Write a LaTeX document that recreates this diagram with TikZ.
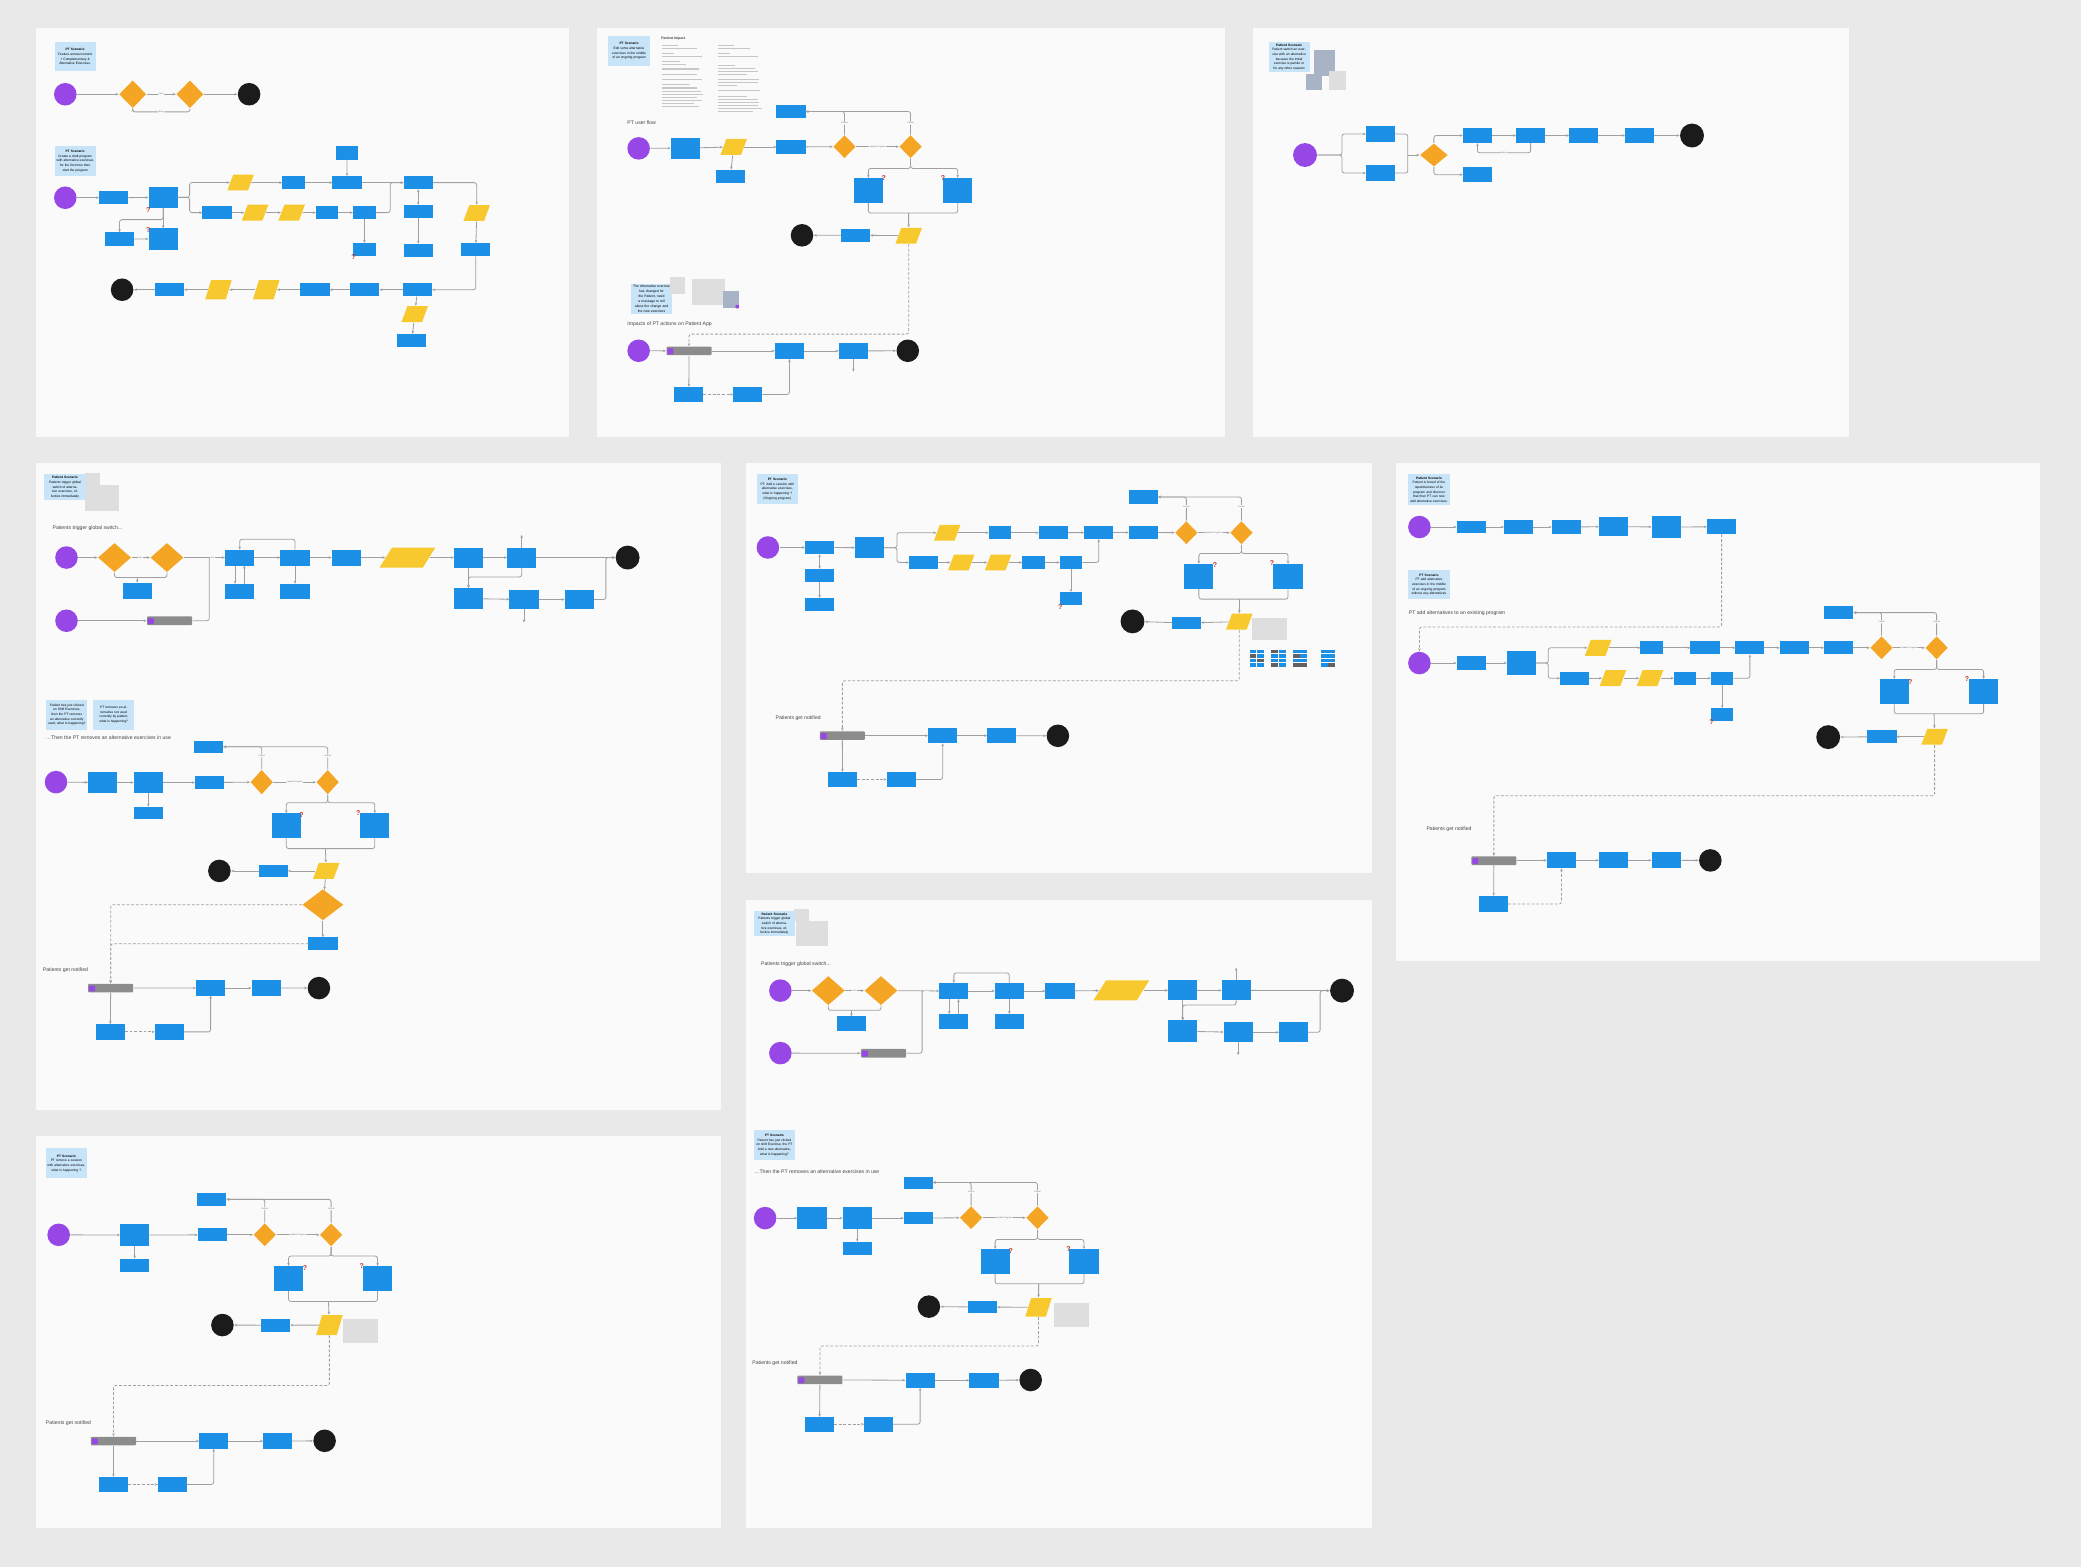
\documentclass[tikz,border=0pt]{standalone}
\usepackage{fontspec}
\setmainfont{Liberation Sans}
\usetikzlibrary{arrows.meta,shapes.geometric}
\definecolor{canvas}{HTML}{E9E9E9}
\definecolor{panel}{HTML}{FAFAFA}
\definecolor{fblue}{HTML}{1C8FE6}
\definecolor{fyel}{HTML}{F8C92E}
\definecolor{forng}{HTML}{F5A524}
\definecolor{fpurp}{HTML}{9747E6}
\definecolor{fblack}{HTML}{1B1B1B}
\definecolor{fnote}{HTML}{C7E4F8}
\definecolor{fgnote}{HTML}{DEDEDE}
\definecolor{fnotif}{HTML}{8C8C8C}
\definecolor{fslate}{HTML}{A9B3C6}
\definecolor{fline}{HTML}{A0A0A0}
\definecolor{fhead}{HTML}{444444}
\definecolor{fred}{HTML}{C0392B}
\begin{document}
\begin{tikzpicture}[
x=0.02cm, y=-0.02cm,
    box/.style = {rectangle, fill=fblue,% blue steps of the flows
                  minimum width=0.44cm, minimum height=0.2cm,
                  inner sep=0pt, outer sep=0pt},
   tall/.style = {minimum height=0.32cm},
    msg/.style = {minimum height=0.38cm},
   slim/.style = {minimum width=0.34cm},
     io/.style = {trapezium, trapezium left angle=68, trapezium right angle=112,
                  trapezium stretches=true, fill=fyel,
                  minimum width=0.4cm, minimum height=0.24cm, inner sep=0.5pt},
    dec/.style = {diamond, fill=forng, minimum width=0.34cm, minimum height=0.35cm,
                  inner sep=0pt},
 bigdec/.style = {dec, minimum width=0.41cm, minimum height=0.42cm},
   strt/.style = {circle, fill=fpurp, minimum size=0.34cm, inner sep=0pt},
    fin/.style = {circle, fill=fblack, minimum size=0.34cm, inner sep=0pt},
   note/.style = {rectangle, fill=fnote, minimum width=0.62cm, minimum height=0.45cm,
                  text width=0.57cm, align=center, inner sep=0.4pt,
                  font=\fontsize{1.4}{2}\selectfont},
    ntf/.style = {rectangle, rounded corners=0.4pt, fill=fnotif,% in-app notification
                  minimum width=0.68cm, minimum height=0.13cm, inner sep=0pt,
                  path picture={\fill[fpurp] ([shift={(0.4pt,0.4pt)}]path picture bounding box.south west)
                                rectangle ++(0.09cm,0.09cm);}},
    hdr/.style = {anchor=west, inner sep=0pt, text=fhead, font=\fontsize{2.2}{2.6}\selectfont},
    arr/.style = {draw=fline, line width=0.35pt, rounded corners=1pt,
                  -{Stealth[length=1.3pt,width=1.1pt]}},
   arr2/.style = {arr, {Stealth[length=1.3pt,width=1.1pt]}-{Stealth[length=1.3pt,width=1.1pt]}},
    lin/.style = {draw=fline, line width=0.35pt, rounded corners=1pt},
    dsh/.style = {arr, dash pattern=on 1.2pt off 0.8pt},
    lbl/.style = {fill=panel, inner sep=0.3pt, text=black!55, font=\fontsize{0.9}{1}\selectfont},
     qm/.style = {inner sep=0pt, text=fred, font=\fontsize{3}{3}\selectfont\bfseries},
                    ]
\fill[canvas] (0,0) rectangle (1568,1181);
\useasboundingbox (0,0) rectangle (1568,1181);
\foreach \xa/\ya/\xb/\yb in {27/21/429/329, 450/21/923/329, 944/21/1393/329,
    27/349/543/836, 562/349/1034/658, 1052/349/1537/724, 562/678/1034/1151, 27/856/543/1151}
  \fill[panel] (\xa,\ya) rectangle (\xb,\yb);

% board 1
\node[note] (p1n1) at (56.6,42.6) {\textbf{PT Scenario}\\Feature announcement + Complementary \& Alternative Exercises.};
\node[strt] (p1s1) at (49.2,71) {};
\node[bigdec] (p1d1) at (100,71) {};
\node[bigdec] (p1d2) at (143.1,71) {};
\node[fin] (p1e1) at (187.7,71) {};
\draw[arr] (p1s1) -- (p1d1);
\draw[arr] (p1d1) -- node[lbl] {Next} (p1d2);
\draw[arr] (p1d2) -- (p1e1);
\draw[arr] (p1d2.south) |- (121.5,84.3) node[lbl] {Back} -| (p1d1.south);

\node[note] (p1n2) at (56.6,121.4) {\textbf{PT Scenario}\\Create a draft program with alternative exercises for the first time then start the program};
\node[strt] (p1s2) at (49.2,149) {};
\node[box] (p1a) at (85.7,149) {};
\node[box, tall] (p1b) at (122.9,148.7) {};
\node[box] (p1c) at (90.1,180.1) {};
\node[box, tall] (p1d) at (122.9,180) {};
\node[io] (p1p1) at (181.3,137.5) {};
\node[box, slim] (p1e) at (221.2,137.6) {};
\node[box] (p1f) at (261.5,137.6) {};
\node[box, slim] (p1g) at (261.4,115.2) {};
\node[box] (p1h) at (315.1,137.6) {};
\node[box] (p1i) at (163.5,160.2) {};
\node[io] (p1p2) at (192.2,160.2) {};
\node[io] (p1p3) at (219.8,160.2) {};
\node[box, slim] (p1j) at (246.5,160.2) {};
\node[box, slim] (p1k) at (274.5,160.2) {};
\node[box, slim] (p1l) at (274.5,188.1) {};
\node[box] (p1m) at (315.1,159.4) {};
\node[box] (p1n) at (315.1,188.6) {};
\node[io] (p1p4) at (359.2,160.5) {};
\node[box] (p1o) at (358.5,188.1) {};
\node[box] (p1q) at (314.6,218.3) {};
\node[box] (p1r) at (274.9,218.3) {};
\node[box] (p1t) at (237.4,218.3) {};
\node[io, minimum height=0.29cm] (p1p5) at (200.6,218.3) {};
\node[io, minimum height=0.29cm] (p1p6) at (164.6,218.3) {};
\node[box] (p1u) at (127.6,218.3) {};
\node[fin] (p1e2) at (92,218.3) {};
\node[io] (p1p7) at (312.5,236.7) {};
\node[box] (p1v) at (310.3,256.5) {};
\foreach \u/\v in {s2/a, a/b, p1/e, e/f, g/f, f/h, i/p2, p2/p3, p3/j, j/k, k/l, m/n, c/d, b/d,
                   p4/o, q/r, r/t, t/p5, p5/p6, p6/u, u/e2, q/p7, p7/v}
  \draw[arr] (p1\u) -- (p1\v);
\draw[arr2] (p1m) -- (p1h);
\draw[arr] (p1b.east) -- ++(9,0) |- (p1p1);
\draw[arr] (p1b.east) -- ++(9,0) |- (p1i);
\draw[arr] (p1k.east) -- ++(11,0) |- (p1h.west);
\draw[arr] (p1h.east) -| (p1p4.north);
\draw[arr] (p1o.south) |- (p1q.east);
\draw[arr] (p1b.south) -- ++(0,8.8) -| (p1c.north);
\node[qm] (p1q1) at (111.8,158.5) {?};
\node[qm] (p1q2) at (111.8,173) {?};
\node[qm] (p1q3) at (266.3,193.5) {?};

% board 2
\node[note, minimum width=0.63cm] (p2n1) at (474,38.5) {\textbf{PT Scenario}\\Edit some alternative exercises in the middle of an ongoing program};
\node[anchor=north west, inner sep=0pt, text=fhead, font=\fontsize{1.5}{1.8}\selectfont\bfseries] (p2imp) at (498,27.3) {Patient impact};
\foreach \yy/\ww in {34/12, 36.3/26, 40/9, 42.3/30, 46/13, 48.3/18, 52/28, 56/26, 60/30,
                     64/21, 66.3/26, 68.6/29, 70.9/31, 73.2/26, 75.5/30, 77.8/24, 80.1/28}
  \draw[black!22, line width=0.45pt] (499,\yy) -- ++(\ww,0);
\foreach \yy/\ww in {34/12, 36.3/24, 40/9, 42.3/30, 49/13, 51.3/28, 53.6/30, 56/22, 60/31,
                     62.3/30, 64.6/14, 68.5/32, 72.5/22, 74.8/30, 77.1/31, 79.4/30, 81.7/33, 84/26}
  \draw[black!22, line width=0.45pt] (541,\yy) -- ++(\ww,0);
\node[hdr] (p2t1) at (472.4,92.7) {PT user flow};
\node[strt] (p2s1) at (481.2,111.8) {};
\node[box, tall] (p2a) at (516.3,111.6) {};
\node[io] (p2p1) at (552.8,110.7) {};
\node[box] (p2b) at (550.3,132.8) {};
\node[box] (p2c) at (596,110.7) {};
\node[box] (p2top) at (596,84) {};
\node[dec] (p2d1) at (636.3,110.5) {};
\node[dec] (p2d2) at (686.1,110.5) {};
\node[box, msg] (p2m1) at (654.3,143.5) {};
\node[box, msg] (p2m2) at (721.6,143.5) {};
\coordinate (p2j) at (684.6,160.5);
\node[io] (p2p2) at (684.7,177.6) {};
\node[box] (p2e) at (644.6,177.2) {};
\node[fin] (p2e1) at (604.3,177.3) {};
\foreach \u/\v in {s1/a, a/p1, p1/c, c/d1, p1/b, j/p2, p2/e, e/e1}
  \draw[arr] (p2\u) -- (p2\v);
\draw[arr] (p2d1) -- node[lbl] {Update Program} (p2d2);
\draw[arr] (p2d1.north) |- node[lbl, pos=0.25] {Cancel} (p2top.east);
\draw[arr] (p2d2.north) |- node[lbl, pos=0.25] {Cancel} (p2top.east);
\draw[arr] (p2d2.south) -- ++(0,7.3) -| (p2m1.north);
\draw[arr] (p2d2.south) -- ++(0,7.3) -| (p2m2.north);
\draw[lin] (p2m1.south) |- (p2j) -| (p2m2.south);
\node[qm] (p2q1) at (665.9,133.8) {?};
\node[qm] (p2q2) at (710.6,133.8) {?};

\node[note, font=\fontsize{1.45}{2.1}\selectfont] (p2n2) at (490.9,225.2) {The Alternative exercise has changed for the Patient, need a message to tell about the change and the new exercises};
\fill[fgnote] (504.7,209) rectangle (516.2,221.3);
\fill[fgnote] (521.3,210) rectangle (546.4,229.6);
\fill[fslate] (544.9,219.5) rectangle (557,232.1);
\fill[fpurp] (555.5,231) circle (0.03cm);
\node[hdr] (p2t2) at (472.4,244.2) {Impacts of PT actions on Patient App};
\node[strt] (p2s2) at (481.2,264.3) {};
\node[ntf] (p2ntf) at (519.2,264.4) {};
\node[box, minimum height=0.24cm] (p2f) at (594.8,264.4) {};
\node[box, minimum height=0.24cm] (p2g) at (643,264.4) {};
\node[fin] (p2e2) at (684,264.3) {};
\coordinate (p2x) at (643,280);
\node[box, minimum height=0.23cm] (p2h) at (519,297.2) {};
\node[box, minimum height=0.23cm] (p2i) at (563.4,297.2) {};
\foreach \u/\v in {s2/ntf, ntf/f, f/g, g/e2, g/x, ntf/h}
  \draw[arr] (p2\u) -- (p2\v);
\draw[dsh] (p2h) -- (p2i);
\draw[arr] (p2i.east) -| (p2f.south);
\draw[dsh] (p2p2.south) -- ++(0,67.8) -| (p2ntf.north);

% board 3
\fill[fslate] (989.9,37.7) rectangle (1006.2,57.5);
\fill[fslate] (983.9,56) rectangle (995.9,67.6);
\fill[fgnote] (1001.7,53.5) rectangle (1014,68.1);
\node[note, minimum height=0.46cm] (p3n1) at (971.3,43) {\textbf{Patient Scenario}\\Patient switch an exercise with an alternative because the initial exercise is painful or for any other reasons};
\node[strt, minimum size=0.36cm] (p3s) at (983.3,116.8) {};
\node[box, minimum height=0.23cm] (p3a) at (1040.2,101) {};
\node[box, minimum height=0.23cm] (p3b) at (1040.2,130.4) {};
\coordinate (p3m) at (1060.7,116.8);
\node[dec, minimum width=0.42cm] (p3d) at (1080.4,116.8) {};
\node[box, minimum height=0.23cm] (p3c) at (1113.2,102.1) {};
\node[box, minimum height=0.23cm] (p3k) at (1113.2,131.6) {};
\node[box, minimum height=0.23cm] (p3e) at (1153.3,102.1) {};
\node[box, minimum height=0.23cm] (p3f) at (1193.4,102.1) {};
\node[box, minimum height=0.23cm] (p3g) at (1235.3,102.1) {};
\node[fin, minimum size=0.36cm] (p3e1) at (1274.9,102.1) {};
\draw[arr] (p3s.east) -- ++(18.5,0) |- (p3a);
\draw[arr] (p3s.east) -- ++(18.5,0) |- (p3b);
\draw[lin] (p3a) -| (p3m);
\draw[lin] (p3b) -| (p3m);
\draw[arr] (p3m) -- (p3d);
\draw[arr] (p3d.north) |- (p3c);
\draw[arr] (p3d.south) |- (p3k);
\foreach \u/\v in {c/e, e/f, f/g, g/e1}
  \draw[arr] (p3\u) -- (p3\v);
\draw[arr] (p3e.south) -- ++(0,7.3) -| node[lbl, pos=0.25] {Back} (p3c.south);

% board 4
\fill[fgnote] (64,356.7) rectangle (75.1,365.1);
\fill[fgnote] (64.3,365.1) rectangle (89.6,384.7);
\node[note, minimum height=0.39cm] (p4n1) at (49,367.2) {\textbf{Patient Scenario}\\Patients trigger global switch of alternative exercises, effective immediately};
\node[hdr] (p4t1) at (39.3,398.3) {Patients trigger global switch...};
\node[strt] (p4s1) at (50.1,420.1) {};
\node[dec, minimum width=0.5cm, minimum height=0.44cm] (p4d1) at (86.3,420.1) {};
\node[dec, minimum width=0.5cm, minimum height=0.44cm] (p4d2) at (125.8,420.1) {};
\node[box, minimum height=0.24cm] (p4c) at (103.4,445) {};
\coordinate (p4k) at (103.4,434.7);
\node[strt] (p4s2) at (50.1,467.7) {};
\node[ntf] (p4ntf) at (127.8,467.7) {};
\coordinate (p4j) at (157.7,420.1);
\node[box, minimum height=0.24cm] (p4a) at (180.6,420.1) {};
\node[box, minimum height=0.23cm] (p4a2) at (180.6,445.6) {};
\node[box, minimum height=0.24cm] (p4b) at (222.3,420.1) {};
\node[box, minimum height=0.23cm] (p4b2) at (222.3,445.6) {};
\node[box, minimum height=0.24cm] (p4c2) at (260.9,420.1) {};
\node[io, minimum width=0.84cm, minimum height=0.3cm] (p4p) at (307,420.1) {};
\node[box, minimum height=0.3cm] (p4d) at (353,420.1) {};
\node[box, minimum height=0.3cm] (p4e) at (393.1,420.1) {};
\coordinate (p4x1) at (393.1,403);
\node[fin, minimum size=0.36cm] (p4e1) at (472.9,420.1) {};
\node[box, tall] (p4f) at (353,451) {};
\node[box, minimum height=0.29cm] (p4g) at (394.8,451.7) {};
\node[box, minimum height=0.29cm] (p4h) at (436.5,451.7) {};
\coordinate (p4x2) at (394.8,469);
\draw[arr] (p4s1) -- (p4d1);
\draw[arr] (p4d1) -- node[lbl] {Yes} (p4d2);
\draw[arr] (p4d2) -- node[lbl, pos=0.7] {Yes} (p4a);
\draw[lin] (p4d1.south) -- ++(0,3.7) -| (p4d2.south);
\draw[arr] (p4k) -- (p4c);
\draw[arr] (p4s2) -- (p4ntf);
\draw[lin] (p4ntf.east) -| (p4j);
\draw[arr] ([xshift=-0.07cm]p4a.south) -- ([xshift=-0.07cm]p4a2.north);
\draw[arr] ([xshift=0.07cm]p4a2.north) -- ([xshift=0.07cm]p4a.south);
\draw[arr] (p4b.north) -- ++(0,-7.8) -| (p4a.north);
\foreach \u/\v in {a/b, b/b2, b/c2, c2/p, p/d, d/e, e/e1, e/x1, d/f, f/g, g/h, g/x2}
  \draw[arr] (p4\u) -- (p4\v);
\draw[arr] (p4e.south) -- ++(0,7.1) -| (p4f.north);
\draw[arr] (p4h.east) -- ++(9,0) |- (p4e1);

\node[note] (p4n2) at (50.3,538.5) {Patient has just clicked on Shift Exercises, then the PT removes an alternative currently used, what is happening?};
\node[note] (p4n3) at (85.7,538.5) {PT removes an alternative not used currently by patient, what is happening?};
\node[hdr] (p4t2) at (34.3,556) {\ldots Then the PT removes an alternative exercises in use};
\node[box, minimum height=0.19cm] (p4rtop) at (157.2,562.7) {};
\node[strt] (p4rs) at (42.2,589.3) {};
\node[box, tall] (p4ra) at (77.4,589.6) {};
\node[box, tall] (p4rb) at (111.8,589.6) {};
\node[box, minimum height=0.19cm] (p4rb2) at (111.8,612.6) {};
\node[box] (p4rc) at (157.9,589.6) {};
\node[dec, minimum height=0.37cm] (p4rd1) at (197.2,589.3) {};
\node[dec, minimum height=0.37cm] (p4rd2) at (246.9,589.3) {};
\node[box, msg] (p4rm1) at (215.7,622.2) {};
\node[box, msg] (p4rm2) at (282.4,622.2) {};
\coordinate (p4rj) at (245.2,639.4);
\node[io] (p4rp) at (245.8,656.2) {};
\node[box, minimum height=0.19cm] (p4re) at (205.9,656.2) {};
\node[fin] (p4re1) at (165.3,656.2) {};
\node[dec, minimum width=0.62cm, minimum height=0.47cm] (p4rd3) at (243.3,681.7) {};
\node[box] (p4rf) at (243.3,711.1) {};
\node[hdr] (p4t3) at (32,731.1) {Patients get notified};
\node[ntf] (p4ntf2) at (83.4,744.5) {};
\node[box, minimum height=0.23cm] (p4rg) at (158.7,744.4) {};
\node[box, minimum height=0.23cm] (p4rh) at (200.5,744.4) {};
\node[fin] (p4re2) at (240.3,744.5) {};
\node[box, minimum height=0.23cm] (p4ri) at (83.1,777.5) {};
\node[box, minimum height=0.23cm] (p4rk) at (127.5,777.5) {};
\foreach \u/\v in {s/a, a/b, b/b2, b/c, c/d1, j/p, p/e, e/e1, p/d3, d3/f, g/h, h/e2}
  \draw[arr] (p4r\u) -- (p4r\v);
\draw[arr] (p4rd1) -- node[lbl] {Update Program} (p4rd2);
\draw[arr] (p4rd1.north) |- node[lbl, pos=0.3] {Cancel} (p4rtop);
\draw[arr] (p4rd2.north) |- node[lbl, pos=0.3] {Cancel} (p4rtop);
\draw[arr] (p4rd2.south) -- ++(0,5.9) -| (p4rm1.north);
\draw[arr] (p4rd2.south) -- ++(0,5.9) -| (p4rm2.north);
\draw[lin] (p4rm1.south) |- (p4rj) -| (p4rm2.south);
\draw[dsh] (p4rd3.west) -| (p4ntf2.north);
\draw[dsh] (p4rf.west) -| (p4ntf2.north);
\draw[arr] (p4ntf2) -- (p4rg);
\draw[arr] (p4ntf2) -- (p4ri);
\draw[dsh] (p4ri) -- (p4rk);
\draw[arr] (p4rk.east) -| (p4rg.south);
\node[qm] (p4q1) at (227.1,614.3) {?};
\node[qm] (p4q2) at (269.9,612.5) {?};

% board 5
\node[note] (p5n1) at (585.7,368.5) {\textbf{PT Scenario}\\PT: Add a session with alternative exercises, what is happening ? (Ongoing program)};
\node[strt] (p5s) at (578.6,412.5) {};
\node[box] (p5a) at (617.6,412.5) {};
\node[box] (p5a2) at (617.6,433.6) {};
\node[box] (p5a3) at (617.6,455.5) {};
\node[box, tall] (p5b) at (655.2,412.7) {};
\node[io] (p5p1) at (713.7,401.4) {};
\node[box, slim] (p5e) at (753.5,401.4) {};
\node[box] (p5f) at (793.7,401.4) {};
\node[box] (p5g) at (827.9,401.2) {};
\node[box] (p5h) at (861.5,401.2) {};
\node[box] (p5top) at (861.5,374.5) {};
\node[dec] (p5d1) at (893.9,401.4) {};
\node[dec] (p5d2) at (935.4,401.4) {};
\node[box] (p5i) at (695.8,423.8) {};
\node[io] (p5p2) at (724.3,423.8) {};
\node[io] (p5p3) at (752.1,423.8) {};
\node[box, slim] (p5j) at (778.7,423.8) {};
\node[box, slim] (p5k) at (807,423.8) {};
\node[box, slim] (p5l) at (807,451.1) {};
\node[box, msg] (p5m1) at (903.3,434.3) {};
\node[box, msg] (p5m2) at (970.5,434.3) {};
\coordinate (p5j2) at (933.9,451.4);
\fill[fgnote] (943,465.7) rectangle (969.7,482.5);
\node[io] (p5p4) at (933.8,468.4) {};
\node[box, minimum height=0.17cm] (p5e2) at (894,469.4) {};
\node[fin, minimum size=0.36cm] (p5e1) at (853.3,468.2) {};
\foreach \gx in {941.7,958,974.2,995.3}
  \foreach \r in {0,1,2,3}
    \foreach \c in {0,1}
      \fill[fblue] (\gx+\c*5.6,489.5+\r*3.4) rectangle ++(5,2.6);
\foreach \gx/\r/\c in {958/0/0, 958/3/0, 974.2/1/0, 974.2/3/0, 974.2/3/1, 941.7/1/0, 941.7/2/1, 995.3/3/1}
  \fill[fnotif!70!black] (\gx+\c*5.6,489.5+\r*3.4) rectangle ++(5,2.6);
\foreach \u/\v in {s/a, a2/a3, a/b, p1/e, e/f, f/g, g/h, h/d1, i/p2, p2/p3, p3/j, j/k, k/l, j2/p4, p4/e2, e2/e1}
  \draw[arr] (p5\u) -- (p5\v);
\draw[arr2] (p5a) -- (p5a2);
\draw[arr] (p5b.east) -- ++(9.6,0) |- (p5p1);
\draw[arr] (p5b.east) -- ++(9.6,0) |- (p5i);
\draw[arr] (p5k.east) -| (p5g.south);
\draw[arr] (p5d1) -- node[lbl] {Update Program} (p5d2);
\draw[arr] (p5d1.north) |- node[lbl, pos=0.3] {Cancel} (p5top);
\draw[arr] (p5d2.north) |- node[lbl, pos=0.3] {Cancel} (p5top);
\draw[arr] (p5d2.south) -- ++(0,6.5) -| (p5m1.north);
\draw[arr] (p5d2.south) -- ++(0,6.5) -| (p5m2.north);
\draw[lin] (p5m1.south) |- (p5j2) -| (p5m2.south);
\node[qm] (p5q1) at (915.5,425.8) {?};
\node[qm] (p5q2) at (958.5,424.6) {?};
\node[qm] (p5q3) at (798.8,457.3) {?};
\node[hdr] (p5t1) at (584.1,541.1) {Patients get notified};
\node[ntf] (p5ntf) at (634.7,554.3) {};
\node[box, minimum height=0.23cm] (p5na) at (710.3,554.3) {};
\node[box, minimum height=0.23cm] (p5nb) at (754.8,554.3) {};
\node[fin] (p5e3) at (797.1,554.4) {};
\node[box, minimum height=0.23cm] (p5nc) at (634.8,587.3) {};
\node[box, minimum height=0.23cm] (p5nd) at (679,587.3) {};
\foreach \u/\v in {ntf/na, na/nb, nb/e3, ntf/nc}
  \draw[arr] (p5\u) -- (p5\v);
\draw[dsh] (p5nc) -- (p5nd);
\draw[arr] (p5nd.east) -| (p5na.south);
\draw[dsh] (p5p4.south) -- ++(0,38.2) -| (p5ntf.north);

% board 6
\node[note, minimum height=0.47cm] (p6n1) at (1076.7,368.9) {\textbf{Patient Scenario}\\Patient is bored of the repetitiveness of its program and discover that their PT can now add alternative exercises.};
\node[strt] (p6s1) at (1069.5,397.1) {};
\node[box, minimum height=0.19cm] (p6a) at (1108.5,397.1) {};
\node[box, minimum height=0.22cm] (p6b) at (1144.3,397.1) {};
\node[box, minimum height=0.22cm] (p6c) at (1180.2,397.1) {};
\node[box, minimum height=0.28cm] (p6d) at (1215.8,396.8) {};
\node[box, minimum height=0.32cm] (p6e) at (1255.4,397.1) {};
\node[box, minimum height=0.23cm] (p6f) at (1297.2,396.9) {};
\foreach \u/\v in {s1/a, a/b, b/c, c/d, d/e, e/f}
  \draw[arr] (p6\u) -- (p6\v);
\node[note] (p6n2) at (1076.7,440.4) {\textbf{PT Scenario}\\PT add alternative exercises in the middle of an ongoing program without any alternatives};
\node[hdr] (p6t1) at (1061.2,461.7) {PT add alternatives to an existing program};
\node[strt] (p6s2) at (1069.5,499.6) {};
\draw[dsh] (p6f.south) -- ++(0,69.8) -| (p6s2.north);
\node[box] (p6ra) at (1108.5,499.6) {};
\node[box, minimum height=0.35cm] (p6rb) at (1146.3,499.6) {};
\node[io] (p6p1) at (1204.2,488.1) {};
\node[box, slim] (p6re) at (1244.5,488.1) {};
\node[box] (p6rf) at (1284.7,488.1) {};
\node[box] (p6rg) at (1318.5,488.1) {};
\node[box] (p6rh) at (1352,488.1) {};
\node[box] (p6ri) at (1385.4,488.1) {};
\node[box] (p6top) at (1385.4,461.6) {};
\node[dec] (p6d1) at (1417.7,488.1) {};
\node[dec] (p6d2) at (1459.2,488.1) {};
\node[box] (p6rj) at (1186.5,511) {};
\node[io] (p6p2) at (1215.3,511) {};
\node[io] (p6p3) at (1243.2,511) {};
\node[box, slim] (p6rk) at (1269.7,511) {};
\node[box, slim] (p6rl) at (1297.6,511) {};
\node[box, slim] (p6rl2) at (1297.6,538.5) {};
\node[box, msg] (p6m1) at (1427.3,521.1) {};
\node[box, msg] (p6m2) at (1494.6,521.1) {};
\coordinate (p6j) at (1457.3,537.8);
\node[io] (p6p4) at (1457.7,555.1) {};
\node[box] (p6re2) at (1418,555.1) {};
\node[fin, minimum size=0.36cm] (p6e1) at (1377.5,555.4) {};
\foreach \u/\v in {s2/ra, ra/rb, p1/re, re/rf, rf/rg, rg/rh, rh/ri, ri/d1, rj/p2, p2/p3, p3/rk, rk/rl,
                   rl/rl2, j/p4, p4/re2, re2/e1}
  \draw[arr] (p6\u) -- (p6\v);
\draw[arr] (p6rb.east) -- ++(9.3,0) |- (p6p1);
\draw[arr] (p6rb.east) -- ++(9.3,0) |- (p6rj);
\draw[arr] (p6rl.east) -| (p6rg.south);
\draw[arr] (p6d1) -- node[lbl] {Update Program} (p6d2);
\draw[arr] (p6d1.north) |- node[lbl, pos=0.3] {Cancel} (p6top);
\draw[arr] (p6d2.north) |- node[lbl, pos=0.3] {Cancel} (p6top);
\draw[arr] (p6d2.south) -- ++(0,7.2) -| (p6m1.north);
\draw[arr] (p6d2.south) -- ++(0,7.2) -| (p6m2.north);
\draw[lin] (p6m1.south) |- (p6j) -| (p6m2.south);
\node[qm] (p6q1) at (1439.4,513.7) {?};
\node[qm] (p6q2) at (1482.1,512) {?};
\node[qm] (p6q3) at (1289.6,543.9) {?};
\node[hdr] (p6t2) at (1074.5,624.5) {Patients get notified};
\node[ntf] (p6ntf) at (1125.6,648.5) {};
\node[box, minimum height=0.24cm] (p6na) at (1176.5,648.2) {};
\node[box, minimum height=0.24cm] (p6nb) at (1215.8,648.2) {};
\node[box, minimum height=0.24cm] (p6nc) at (1255.4,648.2) {};
\node[fin] (p6e2) at (1288.7,648.3) {};
\node[box, minimum height=0.25cm] (p6nd) at (1125.4,681.2) {};
\foreach \u/\v in {ntf/na, na/nb, nb/nc, nc/e2, ntf/nd}
  \draw[arr] (p6\u) -- (p6\v);
\draw[dsh] (p6nd.east) -| (p6na.south);
\draw[dsh] (p6p4.south) -- ++(0,38.1) -| (p6ntf.north);

% board 7
\fill[fgnote] (598.2,684.8) rectangle (609.6,693.9);
\fill[fgnote] (599.4,693.9) rectangle (624.1,712.9);
\node[note, minimum height=0.38cm] (p7n1) at (583.5,696) {\textbf{Patient Scenario}\\Patients trigger global switch of alternative exercises, effective immediately};
\node[hdr] (p7t1) at (573.2,726.8) {Patients trigger global switch...};
\node[strt] (p7s1) at (588,746.4) {};
\node[dec, minimum width=0.5cm, minimum height=0.44cm] (p7d1) at (624.1,746.4) {};
\node[dec, minimum width=0.5cm, minimum height=0.44cm] (p7d2) at (663.8,746.4) {};
\node[box, minimum height=0.22cm] (p7c) at (641.5,771.3) {};
\coordinate (p7k) at (641.5,760.9);
\node[strt] (p7s2) at (588,793.5) {};
\node[ntf] (p7ntf) at (665.7,793.6) {};
\coordinate (p7j) at (694.8,746.4);
\node[box, minimum height=0.24cm] (p7a) at (718.7,746.7) {};
\node[box, minimum height=0.23cm] (p7a2) at (718.7,769.9) {};
\node[box, minimum height=0.24cm] (p7b) at (760.5,746.7) {};
\node[box, minimum height=0.23cm] (p7b2) at (760.5,769.8) {};
\node[box, minimum height=0.24cm] (p7c2) at (798.7,746.7) {};
\node[io, minimum width=0.84cm, minimum height=0.3cm] (p7p) at (844.9,746.2) {};
\node[box, minimum height=0.3cm] (p7d) at (891.2,746.2) {};
\node[box, minimum height=0.3cm] (p7e) at (931.4,746.2) {};
\coordinate (p7x1) at (931.4,729);
\node[fin, minimum size=0.36cm] (p7e1) at (1011.2,746.4) {};
\node[box, minimum height=0.33cm] (p7f) at (891.2,777) {};
\node[box, minimum height=0.3cm] (p7g) at (932.9,777.8) {};
\node[box, minimum height=0.3cm] (p7h) at (974.7,777.8) {};
\coordinate (p7x2) at (932.9,795);
\draw[arr] (p7s1) -- (p7d1);
\draw[arr] (p7d1) -- node[lbl] {Yes} (p7d2);
\draw[arr] (p7d2) -- node[lbl, pos=0.7] {Yes} (p7a);
\draw[lin] (p7d1.south) -- ++(0,3.5) -| (p7d2.south);
\draw[arr] (p7k) -- (p7c);
\draw[arr] (p7s2) -- (p7ntf);
\draw[lin] (p7ntf.east) -| (p7j);
\draw[arr] ([xshift=-0.07cm]p7a.south) -- ([xshift=-0.07cm]p7a2.north);
\draw[arr] ([xshift=0.07cm]p7a2.north) -- ([xshift=0.07cm]p7a.south);
\draw[arr] (p7b.north) -- ++(0,-7.6) -| (p7a.north);
\foreach \u/\v in {a/b, b/b2, b/c2, c2/p, p/d, d/e, e/e1, e/x1, d/f, f/g, g/h, g/x2}
  \draw[arr] (p7\u) -- (p7\v);
\draw[arr] (p7e.south) -- ++(0,3.6) -| (p7f.north);
\draw[arr] (p7h.east) -- ++(9,0) |- (p7e1);

\node[note] (p7n2) at (583.5,862.8) {\textbf{PT Scenario}\\Patient has just clicked on shift Exercise, the PT Add a new alternative, what is happening?};
\node[hdr] (p7t2) at (568.1,883.1) {\ldots Then the PT removes an alternative exercises in use};
\node[box, minimum height=0.18cm] (p7rtop) at (691.8,891) {};
\node[strt] (p7rs) at (576.5,917.8) {};
\node[box, tall] (p7ra) at (611.8,917.8) {};
\node[box, tall] (p7rb) at (645.9,917.8) {};
\node[box] (p7rb2) at (645.9,940.6) {};
\node[box, minimum height=0.19cm] (p7rc) at (692,917.8) {};
\node[dec] (p7rd1) at (731.7,917.5) {};
\node[dec] (p7rd2) at (781.7,917.5) {};
\node[box, msg] (p7rm1) at (749.8,950.6) {};
\node[box, msg] (p7rm2) at (816.7,950.6) {};
\coordinate (p7rj) at (782.6,967.3);
\fill[fgnote] (794,981.5) rectangle (820.2,999.6);
\node[io, minimum height=0.28cm] (p7rp) at (782.5,985) {};
\node[box, minimum height=0.19cm] (p7re) at (740.2,984.8) {};
\node[fin] (p7re1) at (699.9,984.5) {};
\node[hdr] (p7t3) at (566.6,1026.8) {Patients get notified};
\node[ntf] (p7ntf2) at (617.8,1039.7) {};
\node[box, minimum height=0.23cm] (p7rg) at (693.3,1040) {};
\node[box, minimum height=0.23cm] (p7rh) at (741.4,1040) {};
\node[fin] (p7re2) at (776.6,1039.8) {};
\node[box, minimum height=0.22cm] (p7ri) at (617.5,1073.1) {};
\node[box, minimum height=0.22cm] (p7rk) at (662,1073.1) {};
\foreach \u/\v in {s/a, a/b, b/b2, b/c, c/d1, j/p, p/e, e/e1, g/h, h/e2}
  \draw[arr] (p7r\u) -- (p7r\v);
\draw[arr] (p7rd1) -- node[lbl] {Update Program} (p7rd2);
\draw[arr] (p7rd1.north) |- node[lbl, pos=0.3] {Cancel} (p7rtop);
\draw[arr] (p7rd2.north) |- node[lbl, pos=0.3] {Cancel} (p7rtop);
\draw[arr] (p7rd2.south) -- ++(0,7.3) -| (p7rm1.north);
\draw[arr] (p7rd2.south) -- ++(0,7.3) -| (p7rm2.north);
\draw[lin] (p7rm1.south) |- (p7rj) -| (p7rm2.south);
\draw[dsh] (p7rp.south) -- ++(0,21.8) -| (p7ntf2.north);
\draw[arr] (p7ntf2) -- (p7rg);
\draw[arr] (p7ntf2) -- (p7ri);
\draw[dsh] (p7ri) -- (p7rk);
\draw[arr] (p7rk.east) -| (p7rg.south);
\node[qm] (p7q1) at (761.5,942.9) {?};
\node[qm] (p7q2) at (805.1,941.1) {?};

% board 8
\node[note] (p8n1) at (50,876.6) {\textbf{PT Scenario}\\PT remove a session with alternative exercises, what is happening ?};
\node[box] (p8top) at (159.5,903.7) {};
\node[strt] (p8s) at (44.2,930.4) {};
\node[box, tall] (p8a) at (101.5,930.6) {};
\node[box] (p8a2) at (101.5,953.3) {};
\node[box] (p8b) at (160,930.4) {};
\node[dec] (p8d1) at (199.5,930.4) {};
\node[dec] (p8d2) at (249.5,930.4) {};
\node[box, msg] (p8m1) at (217.4,963.4) {};
\node[box, msg] (p8m2) at (284.5,963.4) {};
\coordinate (p8j) at (247.5,980.6);
\fill[fgnote] (258.5,994.2) rectangle (284.7,1011.7);
\node[io, minimum height=0.3cm] (p8p) at (248.2,998.4) {};
\node[box] (p8e) at (207.8,998.5) {};
\node[fin] (p8e1) at (167.6,998.4) {};
\foreach \u/\v in {s/a, a/a2, a/b, b/d1, j/p, p/e, e/e1}
  \draw[arr] (p8\u) -- (p8\v);
\draw[arr] (p8d1) -- node[lbl] {Update Program} (p8d2);
\draw[arr] (p8d1.north) |- node[lbl, pos=0.3] {Cancel} (p8top);
\draw[arr] (p8d2.north) |- node[lbl, pos=0.3] {Cancel} (p8top);
\draw[arr] (p8d2.south) -- ++(0,6.9) -| (p8m1.north);
\draw[arr] (p8d2.south) -- ++(0,6.9) -| (p8m2.north);
\draw[lin] (p8m1.south) |- (p8j) -| (p8m2.south);
\node[qm] (p8q1) at (229.8,955.5) {?};
\node[qm] (p8q2) at (272.5,954.3) {?};
\node[hdr] (p8t1) at (34.3,1072.3) {Patients get notified};
\node[ntf] (p8ntf) at (85.5,1085.8) {};
\node[box, minimum height=0.23cm] (p8na) at (161,1085.8) {};
\node[box, minimum height=0.23cm] (p8nb) at (209.2,1085.8) {};
\node[fin] (p8e2) at (244.6,1085.6) {};
\node[box, minimum height=0.23cm] (p8nc) at (85.5,1118.5) {};
\node[box, minimum height=0.23cm] (p8nd) at (129.9,1118.5) {};
\foreach \u/\v in {ntf/na, na/nb, nb/e2, ntf/nc}
  \draw[arr] (p8\u) -- (p8\v);
\draw[dsh] (p8nc) -- (p8nd);
\draw[arr] (p8nd.east) -| (p8na.south);
\draw[dsh] (p8p.south) -- ++(0,37.7) -| (p8ntf.north);
\end{tikzpicture}
\end{document}
